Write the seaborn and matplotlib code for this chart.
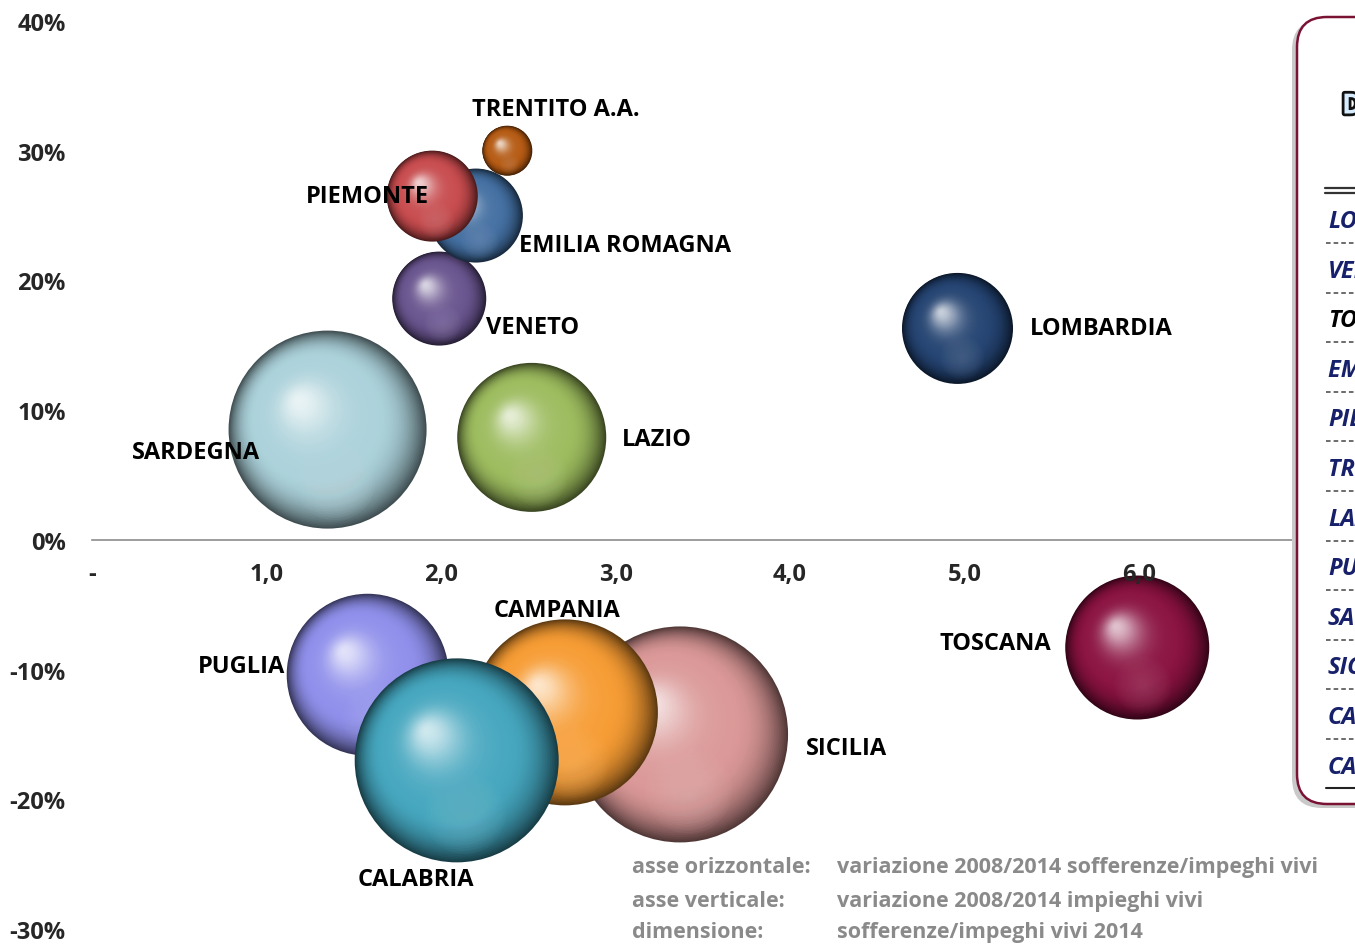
import numpy as np
import pandas as pd
import matplotlib
matplotlib.use("Agg")
import matplotlib.pyplot as plt
import matplotlib.patheffects as pe
from matplotlib import font_manager as fm
from matplotlib.colors import to_rgb
from matplotlib.patches import FancyBboxPatch, Rectangle
from matplotlib.transforms import IdentityTransform
from matplotlib.ticker import FixedLocator, FuncFormatter
import seaborn as sns

# ---- data -------------------------------------------------------------
regioni = ["LOMBARDIA", "VENETO", "TOSCANA", "EMILIA ROMAGNA", "PIEMONTE",
           "TRENTITO A.A.", "LAZIO", "PUGLIA", "SARDEGNA", "SICILIA",
           "CAMPANIA", "CALABRIA"]
# variazione 2008/2014 sofferenze/impieghi vivi (x)
var_sofferenze = [4.96, 1.99, 5.99, 2.20, 1.95, 2.38, 2.52, 1.58, 1.35, 3.37, 2.71, 2.09]
# variazione 2008/2014 impieghi vivi, % (y)
var_impieghi = [16.3, 18.6, -8.3, 25.0, 26.5, 30.0, 7.9, -10.4, 8.5, -15.0, -13.3, -17.0]
# sofferenze/impieghi vivi 2014, % (bubble size)
sofferenze_2014 = [11.1, 9.4, 14.4, 9.4, 9.1, 5.0, 14.9, 16.2, 19.8, 21.6, 18.6, 20.4]
colori = ["#1f3f6e", "#66518c", "#870c3c", "#3f6c9f", "#c6474a", "#b4570e",
          "#9aba5a", "#8c8ceb", "#a9d0d9", "#d99594", "#f6992e", "#40a4bd"]
tabella = ["LOMBARDIA", "VENETO", "TOSCANA", "EMILIA ROMAGNA", "PIEMONTE",
           "TRENTINO A.A.", "LAZIO", "PUGLIA", "SARDEGNA", "SICILIA",
           "CAMPANIA", "CALABRIA"]

x_ticks = [0, 1, 2, 3, 4, 5, 6, 7]
y_ticks = [-30, -20, -10, 0, 10, 20, 30, 40]

# label offsets (pixels) and alignment relative to each bubble centre
label_pos = {
    "LOMBARDIA": (72, 0, "left"),
    "VENETO": (47, -28, "left"),
    "TOSCANA": (-86, 5, "right"),
    "EMILIA ROMAGNA": (43, -29, "left"),
    "PIEMONTE": (-65, 0, "center"),
    "TRENTITO A.A.": (49, 42, "center"),
    "LAZIO": (90, -2, "left"),
    "PUGLIA": (-83, 9, "right"),
    "SARDEGNA": (-68, -22, "right"),
    "SICILIA": (126, -14, "left"),
    "CAMPANIA": (-8, 102, "center"),
    "CALABRIA": (-41, -119, "center"),
}

df = pd.DataFrame({"regione": regioni, "x": var_sofferenze,
                   "y": var_impieghi, "dim": sofferenze_2014, "colore": colori})


# ---- fonts ------------------------------------------------------------
def font_file(families, weight, italic=False):
    want_style = "italic" if italic else "normal"
    for fam in families:
        best = None
        for f in fm.fontManager.ttflist:
            if f.name != fam or f.style != want_style:
                continue
            w = f.weight if isinstance(f.weight, int) else fm.weight_dict.get(f.weight, 400)
            score = abs(w - weight)
            if best is None or score < best[0]:
                best = (score, f.fname)
        if best is not None and best[0] <= 100:
            return best[1]
    return None


def make_prop(size, weight=700, italic=False):
    fname = font_file(["Open Sans", "Roboto", "Noto Sans", "Lato"], weight, italic)
    if fname:
        return fm.FontProperties(fname=fname, size=size)
    return fm.FontProperties(family="DejaVu Sans", weight="bold",
                             style="italic" if italic else "normal", size=size)


sns.set_theme(style="white")
plt.rcParams["font.family"] = ["Open Sans", "DejaVu Sans"]

BOLD = make_prop(17)
BOLD_IT = make_prop(17, italic=True)
NOTE = make_prop(15.5)
HEAD = make_prop(20)

W, H = 1355, 945
fig = plt.figure(figsize=(W / 100, H / 100), dpi=100)
ax = fig.add_axes([92 / W, 15 / H, 7 * 174.5 / W, 908 / H])
ax.set_xlim(0, 7)
ax.set_ylim(-30, 40)

PX_PER_UNIT = 10.0          # bubble diameter in pixels per size unit
PT = 72.0 / 100.0           # points per pixel


def shift(x, y, dx, dy):
    X, Y = ax.transData.transform((x, y))
    return ax.transData.inverted().transform((X + dx, Y + dy))


def shade(base, t):
    """Colour of a sphere layer; t = 1 at the rim, 0 at the highlight."""
    b = np.array(to_rgb(base))
    u = np.clip((t - 0.62) / 0.38, 0, 1)
    dark = 1 - 0.62 * (u ** 2.2)
    c = b * dark
    amb = 0.10 * (1 - t)
    c = c + (1 - c) * amb
    spec = 0.72 * np.exp(-(t / 0.27) ** 2)
    c = c + (1 - c) * spec
    return np.clip(c, 0, 1)


N = 80
for _, r in df.iterrows():
    R = r["dim"] * PX_PER_UNIT / 2
    hx, hy = -0.30 * R, 0.30 * R
    ts = np.linspace(1.0, 0.015, N)
    xs, ys, ss, cs = [], [], [], []
    for t in ts:
        px, py = shift(r["x"], r["y"], hx * (1 - t), hy * (1 - t))
        xs.append(px)
        ys.append(py)
        ss.append((2 * R * t * PT) ** 2)
        cs.append(shade(r["colore"], t))
    layers = pd.DataFrame({"x": xs, "y": ys})
    sns.scatterplot(data=layers, x="x", y="y", s=np.array(ss), c=np.array(cs),
                    linewidth=0, edgecolor="none", legend=False, ax=ax, zorder=3)

    # soft reflection in the lower half of the sphere
    b = np.array(to_rgb(r["colore"]))
    light = b + (1 - b) * 0.30
    M = 12
    fx, fy = shift(r["x"], r["y"], 0.08 * R, -0.52 * R)
    refl = pd.DataFrame({"x": [fx] * M, "y": [fy] * M})
    rs = np.linspace(0.40, 0.06, M) * R
    sns.scatterplot(data=refl, x="x", y="y", s=(2 * rs * PT) ** 2,
                    color=light, alpha=0.05, linewidth=0, edgecolor="none",
                    legend=False, ax=ax, zorder=3)

# data labels
for _, r in df.iterrows():
    dx, dy, ha = label_pos[r["regione"]]
    ax.annotate(r["regione"], (r["x"], r["y"]), xytext=(dx, dy),
                textcoords="offset pixels", ha=ha, va="center",
                fontproperties=BOLD, color="black", zorder=10)

# ---- axes -------------------------------------------------------------
for s in ["left", "top", "right"]:
    ax.spines[s].set_visible(False)
ax.spines["bottom"].set_position(("data", 0))
ax.spines["bottom"].set_color("#8c8c8c")
ax.spines["bottom"].set_linewidth(1.2)
ax.xaxis.set_major_locator(FixedLocator(x_ticks))
ax.yaxis.set_major_locator(FixedLocator(y_ticks))
ax.xaxis.set_major_formatter(FuncFormatter(
    lambda v, p: "-" if v == 0 else f"{v:.1f}".replace(".", ",")))
ax.yaxis.set_major_formatter(FuncFormatter(lambda v, p: f"{v:.0f}%"))
ax.tick_params(axis="x", direction="out", length=6, width=1.2,
               color="#8c8c8c", pad=10)
ax.tick_params(axis="y", length=0, pad=19)
for lab in ax.get_xticklabels() + ax.get_yticklabels():
    lab.set_fontproperties(BOLD)
ax.set_xlabel("")
ax.set_ylabel("")
ax.xaxis.set_zorder(12)
ax.grid(False)

# ---- side table -------------------------------------------------------
ident = IdentityTransform()
shadow = FancyBboxPatch((1292, 136), 500, 788,
                        boxstyle="round,pad=0,rounding_size=30",
                        transform=ident, facecolor="#c9c9c9", edgecolor="none",
                        zorder=20)
box = FancyBboxPatch((1297, 140), 500, 787,
                     boxstyle="round,pad=0,rounding_size=30",
                     transform=ident, facecolor="white", edgecolor="#7a1234",
                     linewidth=1.8, zorder=21)
fig.add_artist(shadow)
fig.add_artist(box)

fig.text(1342 / W, 1 - 107 / H, "DATI 2014", fontproperties=HEAD,
         color="#d6ecff", va="center", ha="left", zorder=25,
         path_effects=[pe.withStroke(linewidth=4, foreground="#111111")])
for yy in (189, 194):
    fig.add_artist(plt.Line2D([1325 / W, 1], [1 - yy / H] * 2,
                              color="#333333", lw=1.6, zorder=25))
row0, step = 222, 49.6
for i, name in enumerate(tabella):
    yc = row0 + i * step
    fig.text(1328 / W, 1 - yc / H, name, fontproperties=BOLD_IT,
             va="center", ha="left", zorder=25,
             color="black" if name == "TOSCANA" else "#17206a")
    ly = yc + 22
    if i < len(tabella) - 1:
        fig.add_artist(plt.Line2D([1326 / W, 1], [1 - ly / H] * 2,
                                  color="#444444", lw=1.1, ls=(0, (3, 2)),
                                  zorder=25))
    else:
        fig.add_artist(plt.Line2D([1326 / W, 1], [1 - (ly - 1) / H] * 2,
                                  color="#222222", lw=1.5, zorder=25))

# ---- axis legend box --------------------------------------------------
fig.add_artist(Rectangle((625 / W, 0), 1 - 625 / W, (945 - 845) / H,
                         transform=fig.transFigure, facecolor="white",
                         edgecolor="none", zorder=22))
note_rows = [("asse orizzontale:", "variazione 2008/2014 sofferenze/impeghi vivi"),
             ("asse verticale:", "variazione 2008/2014 impieghi vivi"),
             ("dimensione:", "sofferenze/impeghi vivi 2014")]
for (k, v), yy in zip(note_rows, (868, 902, 933)):
    fig.text(632 / W, 1 - yy / H, k, fontproperties=NOTE,
             color="#8a8a8a", va="center", ha="left", zorder=25)
    fig.text(837 / W, 1 - yy / H, v, fontproperties=NOTE,
             color="#8a8a8a", va="center", ha="left", zorder=25)

fig.savefig("out.png", dpi=100)
